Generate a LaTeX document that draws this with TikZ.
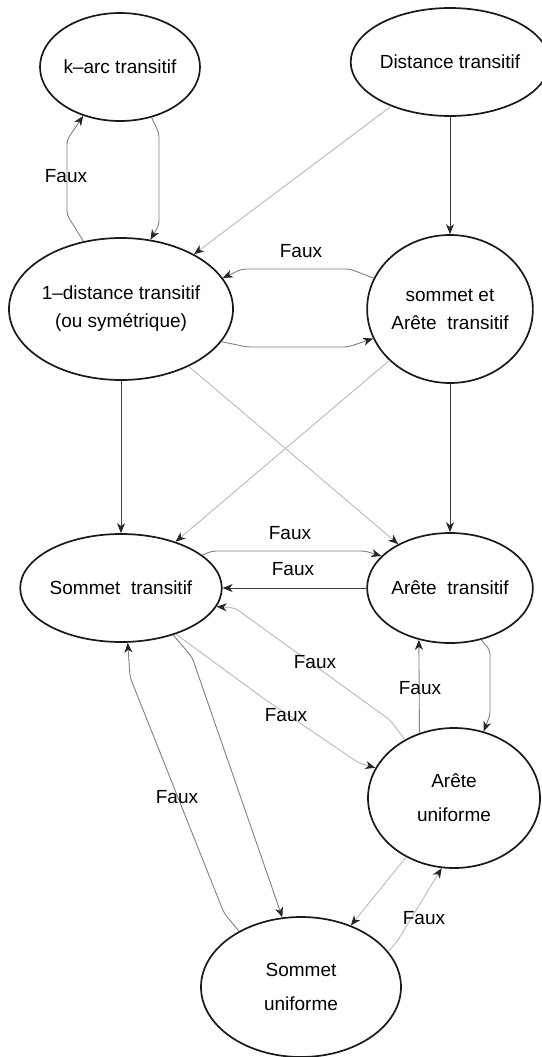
\documentclass[tikz,border=0pt]{standalone}
\usepackage{fontspec}
\setmainfont{Liberation Sans}
\usetikzlibrary{shapes.geometric,arrows.meta}
\begin{document}
\begin{tikzpicture}[x=1pt,y=-1pt,
  state/.style={ellipse,draw=black!90,line width=1.7pt,inner sep=0pt,align=center,
    font=\fontsize{19}{28}\selectfont},
  wide/.style={font=\fontsize{19}{34}\selectfont},
  edge/.style={line width=0.9pt,rounded corners=4pt,
    -{Stealth[length=10pt,width=8pt,inset=3pt,color=black!85]}},
  dark/.style={edge,draw=black!75},
  mid/.style={edge,draw=black!50},
  light/.style={edge,draw=black!28},
  lbl/.style={font=\fontsize{19}{23}\selectfont,inner sep=0pt}]
\useasboundingbox (0,0) rectangle (541,1057);

% states
\node[state,minimum width=160pt,minimum height=108pt] (ka) at (120,67) {k\textendash arc transitif};
\node[state,minimum width=182pt,minimum height=108pt] (dt) at (450,62) {Distance transitif};
\node[state,minimum width=218pt,minimum height=142pt] (od) at (121,309) {1\textendash distance transitif\\(ou symétrique)};
\node[state,minimum width=162pt,minimum height=148pt] (sa) at (450,309) {sommet et\\Arête~~transitif};
\node[state,minimum width=196pt,minimum height=108pt] (st) at (121,588) {Sommet~~transitif};
\node[state,minimum width=164pt,minimum height=110pt] (at) at (450,588) {Arête~~transitif};
\node[state,wide,minimum width=172pt,minimum height=140pt] (au) at (454,798) {Arête\\uniforme};
\node[state,wide,minimum width=200pt,minimum height=140pt] (su) at (301,987) {Sommet\\uniforme};

% implications and counter-examples
\draw[mid] (ka.-58) -- (159,133) -- (159,225) -- (od.67);
\draw[mid] (od.119) -- (67,215) -- (67,140) -- (ka.233);
\node[lbl] (f1) at (66,176) {Faux};

\draw[light] (dt) -- (od);
\draw[dark] (dt.south) -- (sa.north);

\draw[mid] (sa.158) -- (350,269) -- (242,269) -- (od.17);
\node[lbl] (f2) at (301,251) {Faux};
\draw[mid] (od.-18) -- (247,347) -- (348,347) -- (sa.201);

\draw[dark] (od.south) -- (st.north);
\draw[light] (od) -- (at);
\draw[light] (sa) -- (st);
\draw[dark] (sa.south) -- (at.north);

\draw[mid] (st.22) -- (212,551) -- (365,551) -- (at.155);
\node[lbl] (f3) at (290,533) {Faux};
\draw[dark] (at.west) -- (st.east);
\node[lbl] (f4) at (293,569) {Faux};

\draw[light] (au.130) -- (390,720) -- (235,608) -- (st.-11);
\node[lbl] (f5) at (315,662) {Faux};
\draw[mid] (au.118) -- (at.239);
\node[lbl] (f6) at (420,688) {Faux};
\draw[mid] (at.-59) -- (490,650) -- (490,715) -- (au.66);

\draw[light] (st.-40) -- (263,698) -- (359,763) -- (au.159);
\node[lbl] (f7) at (286,715) {Faux};
\draw[mid] (st.-42) -- (192,657) -- (su.105);
\draw[mid] (su.138) -- (224,913) -- (130,677) -- (st.-83);
\node[lbl] (f8) at (177,797) {Faux};

\draw[light] (au) -- (su);
\draw[light] (su.22) -- (398,940) -- (au.260);
\node[lbl] (f9) at (424,918) {Faux};
\end{tikzpicture}
\end{document}
